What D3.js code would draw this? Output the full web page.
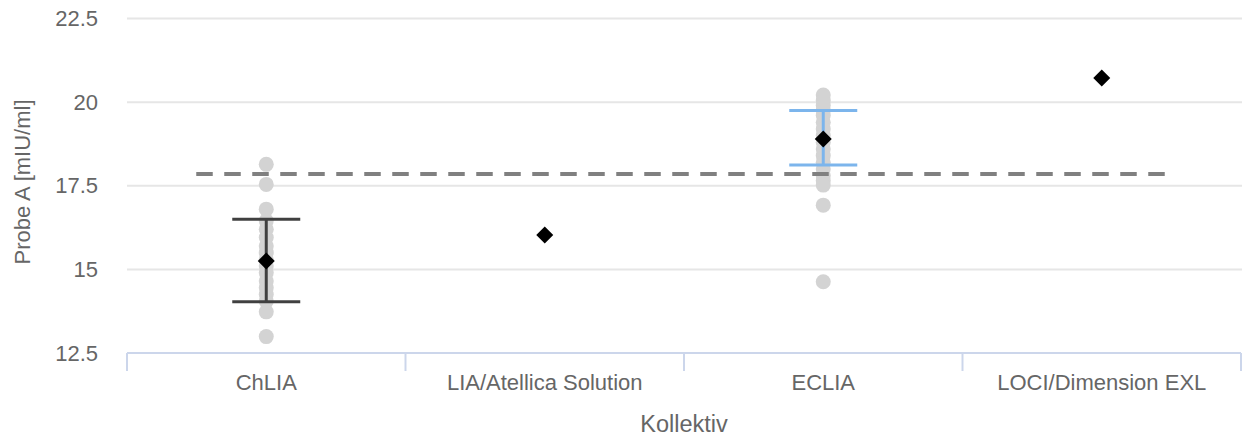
<!DOCTYPE html>
<html><head><meta charset="utf-8">
<script src="https://cdn.jsdelivr.net/npm/d3@7"></script>
<style>body{margin:0;background:#fff}svg{display:block;font-family:"Liberation Sans",Arial,sans-serif}</style>
</head><body><svg id="c" width="1242" height="436"></svg>
<script>
const categories = ["ChLIA", "LIA/Atellica Solution", "ECLIA", "LOCI/Dimension EXL"];
const yTicks = [12.5, 15, 17.5, 20, 22.5];
const chliaPoints = [18.14, 17.54, 16.8, 16.45, 16.2, 15.95, 15.7, 15.5, 15.3, 15.1, 14.9, 14.65, 14.45, 14.25, 14.05, 13.73, 12.99];
const ecliaPoints = [20.21, 20.05, 19.9, 19.75, 19.6, 19.4, 19.2, 19.0, 18.8, 18.6, 18.4, 18.2, 18.0, 17.8, 17.65, 17.52, 16.92, 14.63];
const means = [15.25, 16.03, 18.9, 20.72];
const errLow = [14.03, null, 18.12, null];
const errHigh = [16.5, null, 19.75, null];
const errColors = ["#404040", null, "#7cb5ec", null];
const targetValue = 17.85;

const svg = d3.select("#c");
const x = d3.scaleBand().domain(categories).range([127, 1241]).padding(0);
const y = d3.scaleLinear().domain([12.5, 22.5]).range([353, 18.5]);
const cx = c => x(c) + x.bandwidth() / 2;

// gridlines
svg.append("g").selectAll("line").data(yTicks.filter(t => t > 12.5)).join("line")
  .attr("x1", 127).attr("x2", 1242).attr("y1", d => y(d)).attr("y2", d => y(d))
  .attr("stroke", "#e6e6e6").attr("stroke-width", 2);

// y tick labels
svg.append("g").selectAll("text").data(yTicks).join("text")
  .attr("x", 98).attr("y", d => y(d) + 7.5).attr("text-anchor", "end")
  .attr("font-size", 22).attr("fill", "#666666").text(d => d);

// x axis
const xa = svg.append("g");
xa.append("line").attr("x1", 127).attr("x2", 1241).attr("y1", 353).attr("y2", 353)
  .attr("stroke", "#ccd6eb").attr("stroke-width", 2);
const bounds = categories.map(c => x(c)).concat([x.range()[1]]);
xa.selectAll("line.tk").data(bounds).join("line").attr("class", "tk")
  .attr("x1", d => d).attr("x2", d => d).attr("y1", 353).attr("y2", 371)
  .attr("stroke", "#ccd6eb").attr("stroke-width", 2);
xa.selectAll("text").data(categories).join("text")
  .attr("x", d => cx(d)).attr("y", 390).attr("text-anchor", "middle")
  .attr("font-size", 22).attr("fill", "#666666").text(d => d);

// axis titles
svg.append("text").attr("x", 684).attr("y", 432).attr("text-anchor", "middle")
  .attr("font-size", 23.5).attr("fill", "#666666").text("Kollektiv");
svg.append("text").attr("transform", "translate(30,182) rotate(-90)").attr("text-anchor", "middle")
  .attr("font-size", 22).attr("fill", "#666666").text("Probe A [mIU/ml]");

// points
const pts = [[categories[0], chliaPoints], [categories[2], ecliaPoints]];
pts.forEach(([c, arr]) => {
  svg.append("g").selectAll("circle").data(arr).join("circle")
    .attr("cx", cx(c)).attr("cy", d => y(d)).attr("r", 7.5).attr("fill", "#d3d3d3");
});

// dashed target line
svg.append("line").attr("x1", cx(categories[0]) - 70).attr("x2", cx(categories[3]) + 70)
  .attr("y1", y(targetValue)).attr("y2", y(targetValue))
  .attr("stroke", "#808080").attr("stroke-width", 4).attr("stroke-dasharray", "16.5,11.5");

// error bars
categories.forEach((c, i) => {
  if (errLow[i] == null) return;
  const g = svg.append("g").attr("stroke", errColors[i]).attr("stroke-width", 3);
  g.append("line").attr("x1", cx(c)).attr("x2", cx(c)).attr("y1", y(errLow[i])).attr("y2", y(errHigh[i]));
  [errLow[i], errHigh[i]].forEach(v => g.append("line").attr("x1", cx(c) - 34).attr("x2", cx(c) + 34)
    .attr("y1", y(v)).attr("y2", y(v)));
});

// mean diamonds
svg.append("g").selectAll("path").data(means).join("path")
  .attr("d", (d, i) => { const px = cx(categories[i]), py = y(d), s = 8.5;
    return `M${px},${py - s}L${px + s},${py}L${px},${py + s}L${px - s},${py}Z`; })
  .attr("fill", "#000");
</script></body></html>
